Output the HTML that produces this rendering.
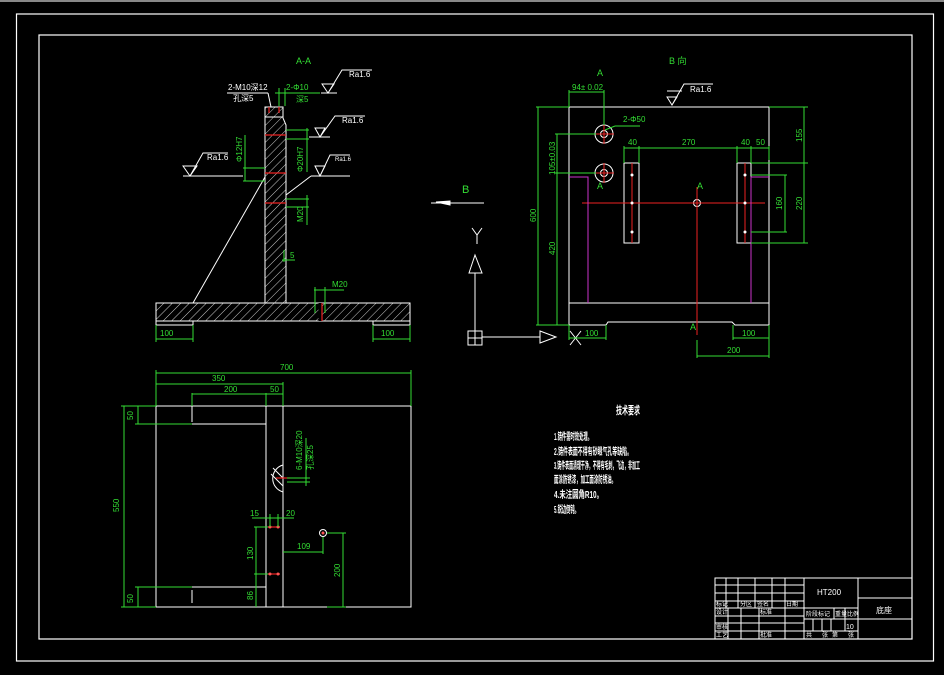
<!DOCTYPE html>
<html><head><meta charset="utf-8"><style>
html,body{margin:0;padding:0;background:#000;}
svg{display:block}
text{font-family:"Liberation Sans","Noto Sans CJK SC",sans-serif;}
</style></head><body>
<svg width="944" height="675" viewBox="0 0 944 675" xmlns="http://www.w3.org/2000/svg">
<defs>
<pattern id="h" patternUnits="userSpaceOnUse" width="6" height="6" patternTransform="rotate(45)">
<line x1="0" y1="0" x2="0" y2="6" stroke="#fff" stroke-width="0.8"/>
</pattern>
</defs>
<rect width="944" height="675" fill="#000"/>
<rect x="0" y="0" width="944" height="2" fill="#888"/>
<rect x="16.5" y="14" width="917" height="647" fill="none" stroke="#fff" stroke-width="1.2"/>
<rect x="39" y="35" width="873" height="604" fill="none" stroke="#fff" stroke-width="1.2"/>

<!-- ===== Section A-A ===== -->
<g stroke="#fff" stroke-width="1" fill="none">
<path d="M265,303 L265,107 L283,107 L283,118 L286,125 L286,303 Z" fill="url(#h)"/>
<rect x="156" y="303" width="254" height="18" fill="url(#h)"/>
<path d="M156,321 L156,325 L193,325 L193,321 M373,321 L373,325 L410,325 L410,321"/>
<line x1="193" y1="303" x2="265" y2="177"/>
<line x1="265" y1="117" x2="283" y2="117"/>
<line x1="320" y1="303" x2="320" y2="321" stroke-width="3" stroke="#000"/>
</g>
<g stroke="#e22" stroke-width="1.2">
<line x1="265" y1="135" x2="286" y2="135"/>
<line x1="265" y1="173" x2="286" y2="173"/>
<line x1="265" y1="203" x2="286" y2="203"/>
<line x1="322" y1="303" x2="322" y2="321"/>
<line x1="269" y1="107" x2="269" y2="113"/><line x1="279" y1="107" x2="279" y2="113"/>
</g>
<g stroke="#fff" stroke-width="1" fill="none">
<line x1="227" y1="93" x2="268" y2="93"/><line x1="268" y1="93" x2="271" y2="107"/>
<path d="M321,93 L337,93 M322,84 L328,93 L334,84 Z M328,93 L342,70 L372,70"/>
<path d="M309,137 L330,137 M315,128 L320,137 L325,128 Z M320,137 L335,116 L365,116"/>
<path d="M183,176 L243,176 M183,166 L190,176 L197,166 Z M190,176 L203,153 L228,153"/>
<path d="M311,176 L350,176 M315,166 L320,176 L325,166 Z M320,176 L330,155 L350,155"/>
<line x1="286" y1="195" x2="311" y2="176"/>
</g>
<g stroke="#3d3" stroke-width="1" fill="none">
<line x1="156" y1="325" x2="156" y2="342"/><line x1="193" y1="325" x2="193" y2="342"/><line x1="156" y1="339" x2="193" y2="339"/>
<line x1="373" y1="325" x2="373" y2="342"/><line x1="410" y1="325" x2="410" y2="342"/><line x1="373" y1="339" x2="410" y2="339"/>
<line x1="286" y1="130" x2="309" y2="130"/><line x1="286" y1="139" x2="309" y2="139"/><line x1="307" y1="128" x2="307" y2="172"/>
<line x1="243" y1="168" x2="265" y2="168"/><line x1="243" y1="181" x2="265" y2="181"/><line x1="245" y1="135" x2="245" y2="181"/>
<line x1="286" y1="199" x2="309" y2="199"/><line x1="286" y1="207" x2="309" y2="207"/><line x1="307" y1="195" x2="307" y2="225"/>
<line x1="284" y1="250" x2="284" y2="262"/><line x1="282" y1="260" x2="295" y2="260"/>
<line x1="315" y1="287" x2="315" y2="313"/><line x1="325" y1="287" x2="325" y2="313"/><line x1="314" y1="290" x2="344" y2="290"/>
<line x1="275" y1="93" x2="320" y2="93"/><line x1="279" y1="88" x2="279" y2="106"/><line x1="285" y1="88" x2="285" y2="106"/>
</g>
<g fill="#3d3" font-size="8">
<text x="296" y="64" font-size="9">A-A</text>
<text x="160" y="336">100</text><text x="381" y="336">100</text>
<text x="286" y="90">2-Φ10</text><text x="296" y="102">深5</text>
<text x="332" y="287">M20</text><text x="290" y="258">5</text>
<text transform="translate(303,222) rotate(-90)">M20</text>
<text transform="translate(303,172) rotate(-90)">Φ20H7</text>
<text transform="translate(242,162) rotate(-90)">Φ12H7</text>
</g>
<g fill="#fff" font-size="8">
<text x="228" y="90">2-M10深12</text><text x="233" y="101">孔深5</text>
<text x="349" y="77">Ra1.6</text><text x="342" y="123">Ra1.6</text>
<text x="207" y="160">Ra1.6</text><text x="335" y="161" font-size="6">Ra1.6</text>
</g>

<!-- B arrow and axis -->
<g stroke="#fff" stroke-width="1" fill="none">
<line x1="431" y1="203" x2="484" y2="203"/>
<path d="M436,202 L450,201 L450,205 Z" fill="#fff"/>
<path d="M472,228 L477,235 L482,228 M477,235 L477,244"/>
<line x1="475" y1="273" x2="475" y2="331"/>
<path d="M469,273 L475,255 L482,273 Z"/>
<rect x="468" y="331" width="14" height="14"/><line x1="475" y1="331" x2="475" y2="345"/><line x1="468" y1="338" x2="482" y2="338"/>
<line x1="482" y1="337" x2="540" y2="337"/>
<path d="M540,331 L556,337 L540,343 Z"/>
<path d="M570,331 L581,345 M570,345 L581,331"/>
</g>
<text x="462" y="193" fill="#3d3" font-size="11">B</text>

<!-- ===== B view ===== -->
<g stroke="#fff" stroke-width="1" fill="none">
<rect x="569" y="107" width="200" height="196"/>
<path d="M569,303 L569,325 L606,325 L608,322 L732,322 L735,325 L769,325 L769,303"/>
<rect x="624" y="163" width="15" height="80"/>
<rect x="737" y="163" width="14" height="80"/>
<circle cx="604" cy="134" r="9"/><circle cx="604" cy="134" r="3.5"/>
<circle cx="604" cy="173" r="9"/><circle cx="604" cy="173" r="3.5"/>
<circle cx="697" cy="203" r="3.5"/>
<path d="M667,91 L682,91 M667,97 L672,105 L677,97 Z M672,105 L684,84 L713,84"/>
</g>
<g stroke="#e22" stroke-width="1">
<line x1="582" y1="203" x2="765" y2="203"/>
<line x1="697" y1="187" x2="697" y2="335"/>
<line x1="632" y1="163" x2="632" y2="243"/>
<line x1="745" y1="163" x2="745" y2="243"/>
<line x1="594" y1="134" x2="614" y2="134"/><line x1="604" y1="124" x2="604" y2="144"/>
<line x1="594" y1="173" x2="614" y2="173"/><line x1="604" y1="163" x2="604" y2="183"/>
</g>
<g fill="#fff"><circle cx="632" cy="175" r="1.5"/><circle cx="632" cy="203" r="1.5"/><circle cx="632" cy="232" r="1.5"/><circle cx="745" cy="175" r="1.5"/><circle cx="745" cy="203" r="1.5"/><circle cx="745" cy="232" r="1.5"/></g>
<g stroke="#c3c" stroke-width="1" fill="none">
<path d="M569,177 L588,177 L588,303"/>
<path d="M769,177 L751,177 L751,303"/>
</g>
<g stroke="#3d3" stroke-width="1" fill="none">
<line x1="536" y1="107" x2="569" y2="107"/><line x1="536" y1="325" x2="569" y2="325"/><line x1="538" y1="107" x2="538" y2="325"/>
<line x1="555" y1="134" x2="596" y2="134"/><line x1="555" y1="173" x2="596" y2="173"/><line x1="557" y1="134" x2="557" y2="325"/>
<line x1="569" y1="90" x2="569" y2="107"/><line x1="604" y1="90" x2="604" y2="125"/><line x1="569" y1="92" x2="604" y2="92"/>
<line x1="605" y1="130" x2="615" y2="126"/><line x1="615" y1="126" x2="640" y2="126"/>
<line x1="624" y1="146" x2="624" y2="163"/><line x1="639" y1="146" x2="639" y2="163"/><line x1="737" y1="146" x2="737" y2="163"/><line x1="751" y1="146" x2="751" y2="163"/><line x1="769" y1="146" x2="769" y2="160"/>
<line x1="624" y1="148" x2="769" y2="148"/>
<line x1="769" y1="107" x2="808" y2="107"/><line x1="751" y1="163" x2="808" y2="163"/><line x1="751" y1="243" x2="808" y2="243"/>
<line x1="804" y1="107" x2="804" y2="243"/>
<line x1="751" y1="175" x2="787" y2="175"/><line x1="751" y1="232" x2="787" y2="232"/><line x1="785" y1="175" x2="785" y2="232"/>
<line x1="569" y1="325" x2="569" y2="340"/><line x1="606" y1="325" x2="606" y2="340"/><line x1="569" y1="338" x2="606" y2="338"/>
<line x1="733" y1="325" x2="733" y2="340"/><line x1="769" y1="325" x2="769" y2="358"/><line x1="733" y1="338" x2="769" y2="338"/>
<line x1="697" y1="340" x2="697" y2="358"/><line x1="697" y1="356" x2="769" y2="356"/>
</g>
<g fill="#3d3" font-size="8">
<text x="669" y="64" font-size="9">B 向</text>
<text x="597" y="76" font-size="9">A</text><text x="597" y="189" font-size="9">A</text>
<text x="697" y="189" font-size="9">A</text><text x="690" y="330" font-size="9">A</text>
<text x="572" y="90">94± 0.02</text><text x="623" y="122">2-Φ50</text>
<text x="628" y="145">40</text><text x="682" y="145">270</text><text x="741" y="145">40</text><text x="756" y="145">50</text>
<text x="585" y="336">100</text><text x="742" y="336">100</text><text x="727" y="353">200</text>
<text transform="translate(536,222) rotate(-90)">600</text>
<text transform="translate(555,255) rotate(-90)">420</text>
<text transform="translate(555,175) rotate(-90)">105±0.03</text>
<text transform="translate(802,142) rotate(-90)">155</text>
<text transform="translate(802,210) rotate(-90)">220</text>
<text transform="translate(782,210) rotate(-90)">160</text>
</g>
<text x="690" y="92" fill="#fff" font-size="8">Ra1.6</text>

<!-- ===== Plan view ===== -->
<g stroke="#fff" stroke-width="1" fill="none">
<rect x="156" y="406" width="255" height="201"/>
<line x1="266" y1="406" x2="266" y2="607"/><line x1="283" y1="406" x2="283" y2="607"/>
<line x1="192" y1="424" x2="266" y2="424"/><line x1="192" y1="587" x2="266" y2="587"/>
<line x1="192" y1="406" x2="192" y2="422"/><line x1="192" y1="590" x2="192" y2="603"/>
<path d="M283,465 A14,14 0 0 0 283,492 Z"/>
<line x1="273" y1="468" x2="283" y2="478"/><line x1="271" y1="474" x2="283" y2="486"/>
<circle cx="323" cy="533" r="3.5"/>
</g>
<g stroke="#e22" stroke-width="1.2"><line x1="276" y1="478" x2="290" y2="478"/><line x1="268" y1="527" x2="280" y2="527"/><line x1="268" y1="574" x2="280" y2="574"/></g>
<g fill="#f55"><circle cx="270" cy="527" r="1.5"/><circle cx="278" cy="527" r="1.5"/><circle cx="270" cy="574" r="1.5"/><circle cx="278" cy="574" r="1.5"/><circle cx="323" cy="533" r="1.5"/></g>
<g stroke="#3d3" stroke-width="1" fill="none">
<line x1="156" y1="370" x2="156" y2="406"/><line x1="411" y1="370" x2="411" y2="406"/><line x1="156" y1="373" x2="411" y2="373"/>
<line x1="156" y1="384" x2="283" y2="384"/><line x1="283" y1="382" x2="283" y2="406"/>
<line x1="192" y1="394" x2="283" y2="394"/><line x1="192" y1="393" x2="192" y2="406"/><line x1="266" y1="393" x2="266" y2="406"/>
<line x1="121" y1="406" x2="156" y2="406"/><line x1="121" y1="607" x2="156" y2="607"/><line x1="124" y1="406" x2="124" y2="607"/>
<line x1="135" y1="424" x2="192" y2="424"/><line x1="138" y1="406" x2="138" y2="424"/>
<line x1="135" y1="587" x2="192" y2="587"/><line x1="138" y1="587" x2="138" y2="607"/>
<line x1="287" y1="478" x2="310" y2="478"/><line x1="287" y1="482" x2="310" y2="482"/><line x1="306" y1="438" x2="306" y2="486"/>
<line x1="252" y1="518" x2="294" y2="518"/><line x1="270" y1="514" x2="270" y2="527"/><line x1="278" y1="514" x2="278" y2="527"/>
<line x1="254" y1="527" x2="268" y2="527"/><line x1="254" y1="574" x2="268" y2="574"/><line x1="256" y1="527" x2="256" y2="607"/>
<line x1="283" y1="552" x2="323" y2="552"/><line x1="323" y1="537" x2="323" y2="554"/>
<line x1="327" y1="533" x2="346" y2="533"/><line x1="343" y1="533" x2="343" y2="607"/><line x1="327" y1="607" x2="346" y2="607"/>
</g>
<g fill="#3d3" font-size="8">
<text x="280" y="370">700</text><text x="212" y="381">350</text>
<text x="224" y="392">200</text><text x="270" y="392">50</text>
<text transform="translate(133,420) rotate(-90)">50</text>
<text transform="translate(133,603) rotate(-90)">50</text>
<text transform="translate(119,512) rotate(-90)">550</text>
<text x="250" y="516">15</text><text x="286" y="516">20</text>
<text x="297" y="549">109</text>
<text transform="translate(253,560) rotate(-90)">130</text>
<text transform="translate(253,600) rotate(-90)">86</text>
<text transform="translate(340,577) rotate(-90)">200</text>
<text transform="translate(302,470) rotate(-90)">6-M10深20</text>
<text transform="translate(313,470) rotate(-90)">孔深25</text>
</g>

<!-- ===== Technical requirements ===== -->
<g fill="#fff" font-size="10" font-weight="bold">
<text x="616" y="414" font-size="11" textLength="24" lengthAdjust="spacingAndGlyphs">技术要求</text>
<text x="554" y="440" textLength="38" lengthAdjust="spacingAndGlyphs">1.铸件需时效处理。</text>
<text x="554" y="455" textLength="78" lengthAdjust="spacingAndGlyphs">2.铸件表面不得有砂眼气孔等缺陷。</text>
<text x="554" y="469" textLength="86" lengthAdjust="spacingAndGlyphs">3.铸件表面清理干净，不得有毛刺，飞边，非加工</text>
<text x="554" y="483" textLength="62" lengthAdjust="spacingAndGlyphs">面涂防锈漆，加工面涂防锈油。</text>
<text x="554" y="498" textLength="49" lengthAdjust="spacingAndGlyphs">4.未注圆角R10。</text>
<text x="554" y="513" textLength="25" lengthAdjust="spacingAndGlyphs">5.锐边倒钝。</text>
</g>

<!-- ===== Title block ===== -->
<g stroke="#fff" stroke-width="1" fill="none">
<rect x="715" y="578" width="197" height="61"/>
<line x1="726" y1="578" x2="726" y2="608"/><line x1="738" y1="578" x2="738" y2="608"/><line x1="755" y1="578" x2="755" y2="608"/><line x1="772" y1="578" x2="772" y2="608"/><line x1="785" y1="578" x2="785" y2="639"/>
<line x1="804" y1="578" x2="804" y2="639"/><line x1="858" y1="578" x2="858" y2="639"/>
<line x1="728" y1="608" x2="728" y2="639"/><line x1="741" y1="608" x2="741" y2="639"/><line x1="759" y1="608" x2="759" y2="639"/>
<line x1="715" y1="585" x2="804" y2="585"/><line x1="715" y1="593" x2="804" y2="593"/><line x1="715" y1="601" x2="804" y2="601"/><line x1="715" y1="608" x2="804" y2="608"/><line x1="715" y1="616" x2="804" y2="616"/><line x1="715" y1="623" x2="804" y2="623"/><line x1="715" y1="631" x2="804" y2="631"/>
<line x1="804" y1="608" x2="858" y2="608"/><line x1="804" y1="619" x2="912" y2="619"/><line x1="804" y1="631" x2="858" y2="631"/>
<line x1="858" y1="598" x2="912" y2="598"/>
<line x1="813" y1="619" x2="813" y2="631"/><line x1="822" y1="619" x2="822" y2="631"/><line x1="831" y1="619" x2="831" y2="631"/><line x1="845" y1="608" x2="845" y2="631"/><line x1="834" y1="608" x2="834" y2="619"/>
</g>
<g fill="#fff" font-size="6">
<text x="817" y="595" font-size="8">HT200</text>
<text x="876" y="613" font-size="8">底座</text>
<text x="846" y="629" font-size="7">10</text>
<text x="716" y="606">标记</text><text x="740" y="606">分区</text><text x="757" y="606">签名</text><text x="786" y="606">日期</text>
<text x="716" y="614">设计</text><text x="760" y="614">标准</text>
<text x="716" y="629">审核</text><text x="716" y="637">工艺</text><text x="760" y="637">批准</text>
<text x="806" y="616">阶段标记</text><text x="835" y="616">重量</text><text x="847" y="616">比例</text>
<text x="806" y="637">共</text><text x="822" y="637">张</text><text x="832" y="637">第</text><text x="848" y="637">张</text>
</g>
</svg>
</body></html>
